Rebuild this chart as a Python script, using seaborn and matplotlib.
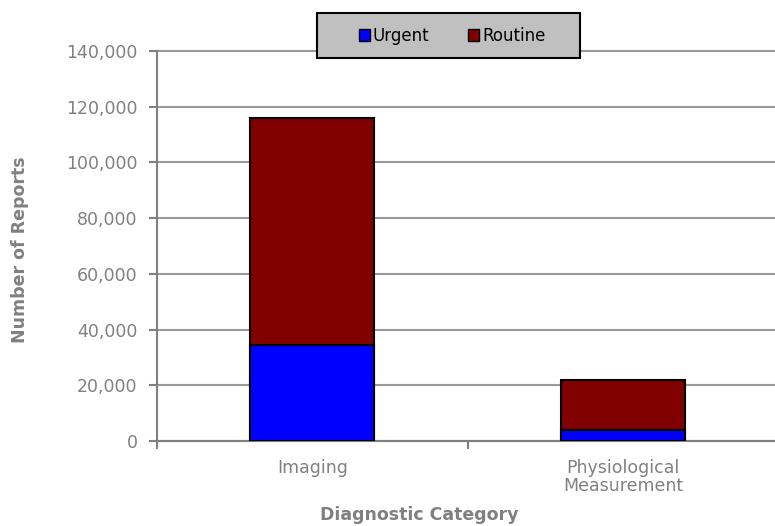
import matplotlib
matplotlib.use("Agg")
import matplotlib.pyplot as plt
import seaborn as sns
import pandas as pd
from matplotlib.ticker import FuncFormatter, FixedLocator
from matplotlib.patches import Patch, Rectangle

categories = ["Imaging", "Physiological\nMeasurement"]
urgent = [34500, 4000]
routine = [81500, 18000]
total = [u + r for u, r in zip(urgent, routine)]

URGENT_COL = "#0000FF"
ROUTINE_COL = "#800000"
GREY = "#808080"

sns.set_style("white")
plt.rcParams['font.family'] = ['DejaVu Sans']

df = pd.DataFrame({"cat": categories, "urgent": urgent, "total": total})

W, H = 775, 526
fig = plt.figure(figsize=(W / 100, H / 100), dpi=100)
ax = fig.add_axes([157 / W, 1 - 441 / H, 1 - 157 / W, 390 / H])

# stacked: total (routine colour) behind, urgent in front
sns.barplot(data=df, x="cat", y="total", color=ROUTINE_COL, saturation=1,
            width=0.4, edgecolor="black", linewidth=1.5, ax=ax, zorder=3)
sns.barplot(data=df, x="cat", y="urgent", color=URGENT_COL, saturation=1,
            width=0.4, edgecolor="black", linewidth=1.5, ax=ax, zorder=4)

ax.set_ylim(0, 140000)
ax.set_xlim(-0.5, 1.49)
ax.set_yticks(range(0, 140001, 20000))
ax.yaxis.set_major_formatter(FuncFormatter(lambda v, p: f"{int(v):,}"))
ax.yaxis.grid(True, color="#999999", linewidth=1.5, zorder=0)
for gl in ax.get_ygridlines():
    gl.set_clip_on(False)
ax.set_axisbelow(True)

ax.xaxis.set_minor_locator(FixedLocator([-0.5, 0.5, 1.5]))
ax.tick_params(axis="x", which="major", length=0, pad=13, labelsize=12.5,
               labelcolor=GREY)
ax.tick_params(axis="x", which="minor", length=6, width=1.5, color=GREY,
               direction="out", bottom=True)
ax.tick_params(axis="y", length=6, width=1.5, color=GREY, direction="out",
               left=True, labelsize=12.5, labelcolor=GREY, pad=8)
for lbl in ax.get_xticklabels():
    lbl.set_linespacing(1.0)

for s in ["top", "right"]:
    ax.spines[s].set_visible(False)
for s in ["left", "bottom"]:
    ax.spines[s].set_color(GREY)
    ax.spines[s].set_linewidth(1.5)

ax.set_xlabel("Diagnostic Category", fontsize=12.5, fontweight="bold",
              color=GREY, va="center")
ax.set_ylabel("Number of Reports", fontsize=12.5, fontweight="bold",
              color=GREY, va="center")
ax.xaxis.set_label_coords((419 - 157) / 618, (441 - 515) / 390)
ax.yaxis.set_label_coords((20 - 157) / 618, (441 - 250) / 390)

# legend box
fig.patches.append(Rectangle((317 / W, 1 - 58 / H), 263 / W, 45 / H,
                             transform=fig.transFigure, facecolor="#C0C0C0",
                             edgecolor="black", linewidth=1.5, zorder=5))
handles = [Patch(facecolor=URGENT_COL, edgecolor="black", label="Urgent"),
           Patch(facecolor=ROUTINE_COL, edgecolor="black", label="Routine")]
leg = fig.legend(handles=handles, loc="center",
                 bbox_to_anchor=(452 / W, 1 - 36 / H), ncol=2, frameon=False,
                 fontsize=12, handlelength=0.7, handleheight=0.7,
                 handletextpad=0.15, columnspacing=2.3, borderaxespad=0,
                 labelcolor="black")
leg.set_zorder(6)

fig.savefig("out.png", dpi=100)
